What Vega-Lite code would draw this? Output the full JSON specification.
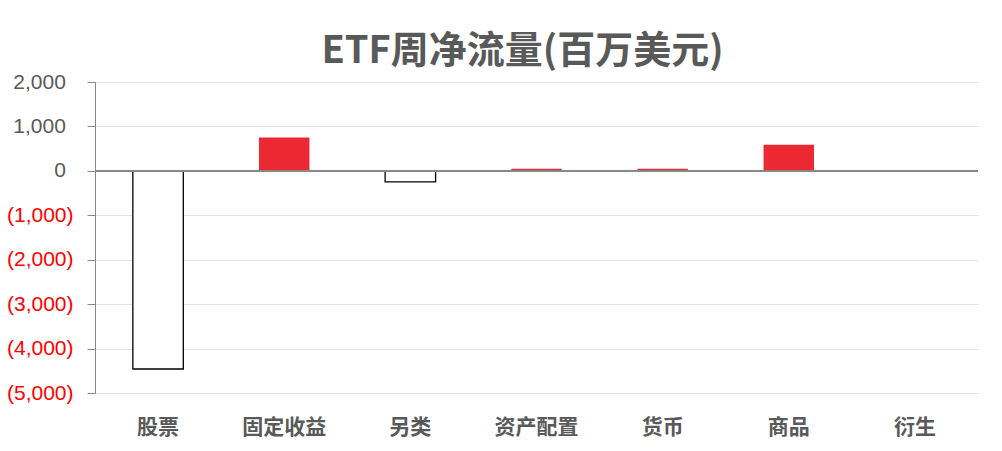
{
  "$schema": "https://vega.github.io/schema/vega-lite/v6.json",
  "autosize": "none",
  "width": 883,
  "height": 311,
  "padding": {"left": 95, "top": 82, "right": 24, "bottom": 58},
  "background": "white",
  "title": {
    "text": "ETF周净流量(百万美元)",
    "font": "Noto Sans CJK SC",
    "fontSize": 38,
    "fontWeight": "bold",
    "color": "#595959",
    "anchor": "middle",
    "dx": -14,
    "offset": 0
  },
  "data": {
    "values": [
      {"cat": "股票", "v": -4460},
      {"cat": "固定收益", "v": 750},
      {"cat": "另类", "v": -250},
      {"cat": "资产配置", "v": 50},
      {"cat": "货币", "v": 50},
      {"cat": "商品", "v": 590},
      {"cat": "衍生", "v": 0}
    ]
  },
  "config": {
    "view": {"stroke": null},
    "axis": {"labelFont": "Noto Sans CJK SC"}
  },
  "layer": [
    {
      "mark": {"type": "bar", "strokeWidth": 1.3},
      "encoding": {
        "x": {
          "field": "cat",
          "type": "nominal",
          "sort": null,
          "scale": {"paddingInner": 0.6, "paddingOuter": 0.3},
          "axis": {
            "title": null,
            "domain": false,
            "ticks": false,
            "labelAngle": 0,
            "labelFontSize": 21,
            "labelFontWeight": "bold",
            "labelColor": "#595959",
            "labelPadding": 23
          }
        },
        "y": {
          "field": "v",
          "type": "quantitative",
          "scale": {"domain": [-5000, 2000], "nice": false, "zero": false},
          "axis": {
            "title": null,
            "values": [-5000, -4000, -3000, -2000, -1000, 0, 1000, 2000],
            "labelExpr": "datum.value < 0 ? '(' + format(-datum.value, ',') + ')' : format(datum.value, ',') + '\u2008\u200a\u2060'",
            "labelColor": {"expr": "datum.value < 0 ? '#FF0000' : '#595959'"},
            "labelFont": "Liberation Sans",
            "labelFontSize": 21,
            "labelPadding": 14,
            "tickSize": 8,
            "tickColor": "#888888",
            "domainColor": "#888888",
            "gridColor": "#E3E3E3",
            "gridWidth": 1
          }
        },
        "fill": {"condition": {"test": "datum.v < 0", "value": "white"}, "value": "#EC2833"},
        "stroke": {"condition": {"test": "datum.v < 0", "value": "black"}, "value": "transparent"}
      }
    },
    {
      "mark": {"type": "rule", "color": "#888888", "strokeWidth": 1.3},
      "encoding": {"y": {"datum": 0}}
    }
  ]
}
